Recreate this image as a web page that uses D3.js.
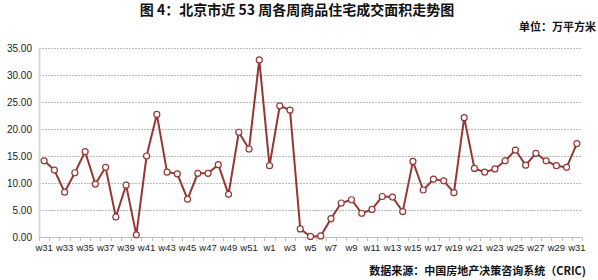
<!DOCTYPE html>
<html><head><meta charset="utf-8">
<script src="https://cdn.jsdelivr.net/npm/d3@7"></script>
<style>body{margin:0;background:#fff}svg{display:block}</style>
</head><body>
<svg id="c" width="598" height="280"></svg>
<script>
const weeks = ["w31","w32","w33","w34","w35","w36","w37","w38","w39","w40","w41","w42","w43","w44","w45","w46","w47","w48","w49","w50","w51","w52",
"w1","w2","w3","w4","w5","w6","w7","w8","w9","w10","w11","w12","w13","w14","w15","w16","w17","w18","w19","w20","w21","w22","w23","w24","w25","w26","w27","w28","w29","w30","w31 "];
const values = [14.1,12.4,8.3,11.9,15.8,9.8,12.9,3.7,9.6,0.4,15.0,22.7,12.0,11.7,7.0,11.8,11.8,13.4,7.9,19.4,16.3,32.8,
13.2,24.3,23.5,1.5,0.1,0.2,3.4,6.3,6.9,4.4,5.1,7.5,7.4,4.7,14.0,8.7,10.7,10.4,8.2,22.1,12.7,12.0,12.6,14.1,16.1,13.3,15.5,14.1,13.2,12.9,17.3];
const yTicks = [0,5,10,15,20,25,30,35];
const title = "图 4：北京市近 53 周各周商品住宅成交面积走势图";
const unit = "单位：万平方米";
const source = "数据来源：中国房地产决策咨询系统（CRIC)";

const svg = d3.select("#c");
const L = 39, R = 582, T = 48, B = 237;
const x = d3.scaleBand().domain(weeks).range([L, R]);
const y = d3.scaleLinear().domain([0, 35]).range([B, T]);
const col = "#953735";

svg.append("text").attr("x", 297).attr("y", 15).attr("text-anchor", "middle")
  .attr("font-family", "Noto Sans CJK SC, sans-serif").attr("font-weight", "bold").attr("font-size", 14).attr("fill", "#111").text(title);
svg.append("text").attr("x", 596).attr("y", 31).attr("text-anchor", "end")
  .attr("font-family", "Noto Sans CJK SC, sans-serif").attr("font-weight", "bold").attr("font-size", 11).attr("fill", "#111").text(unit);
svg.append("text").attr("x", 586).attr("y", 275).attr("text-anchor", "end")
  .attr("font-family", "Noto Sans CJK SC, sans-serif").attr("font-weight", "bold").attr("font-size", 11).attr("fill", "#111").text(source);

// grid
svg.append("g").selectAll("line").data(yTicks.filter(d => d > 0)).join("line")
  .attr("x1", L).attr("x2", R).attr("y1", d => y(d) + 0.5).attr("y2", d => y(d) + 0.5)
  .attr("stroke", "#bdbdbd").attr("stroke-width", 1).attr("stroke-dasharray", "2,1");

// y axis
const ya = svg.append("g").attr("transform", `translate(${L},0)`)
  .call(d3.axisLeft(y).tickValues(yTicks).tickFormat(d3.format(".2f")).tickSize(0).tickPadding(7));
ya.select(".domain").attr("stroke", "#d9d9d9").attr("stroke-width", 2);
ya.selectAll("text").attr("font-family", "Liberation Sans, Arial, sans-serif").attr("font-size", 10).attr("fill", "#222");

// x axis
const xa = svg.append("g").attr("transform", `translate(0,${B})`);
xa.append("line").attr("x1", L).attr("x2", R).attr("y1", 0.5).attr("y2", 0.5).attr("stroke", "#bfbfbf");
xa.selectAll("line.t").data(weeks.concat(["_end"])).join("line").attr("class", "t")
  .attr("x1", (d, i) => Math.round(L + i * x.step()) + 0.5).attr("x2", (d, i) => Math.round(L + i * x.step()) + 0.5)
  .attr("y1", 0).attr("y2", 4).attr("stroke", "#bfbfbf");
xa.selectAll("text").data(weeks.filter((d, i) => i % 2 === 0)).join("text")
  .attr("x", d => x(d) + x.bandwidth() / 2).attr("y", 14).attr("text-anchor", "middle")
  .attr("font-family", "Liberation Sans, Arial, sans-serif").attr("font-size", 9.5).attr("fill", "#222").text(d => d.trim());

// line
const cx = (d, i) => x(weeks[i]) + x.bandwidth() / 2;
svg.append("path").datum(values)
  .attr("d", d3.line().x(cx).y(d => y(d)))
  .attr("fill", "none").attr("stroke", col).attr("stroke-width", 2);
svg.append("g").selectAll("circle").data(values).join("circle")
  .attr("cx", cx).attr("cy", d => y(d)).attr("r", 3)
  .attr("fill", "#fff").attr("stroke", col).attr("stroke-width", 1.2);
</script>
</body></html>
